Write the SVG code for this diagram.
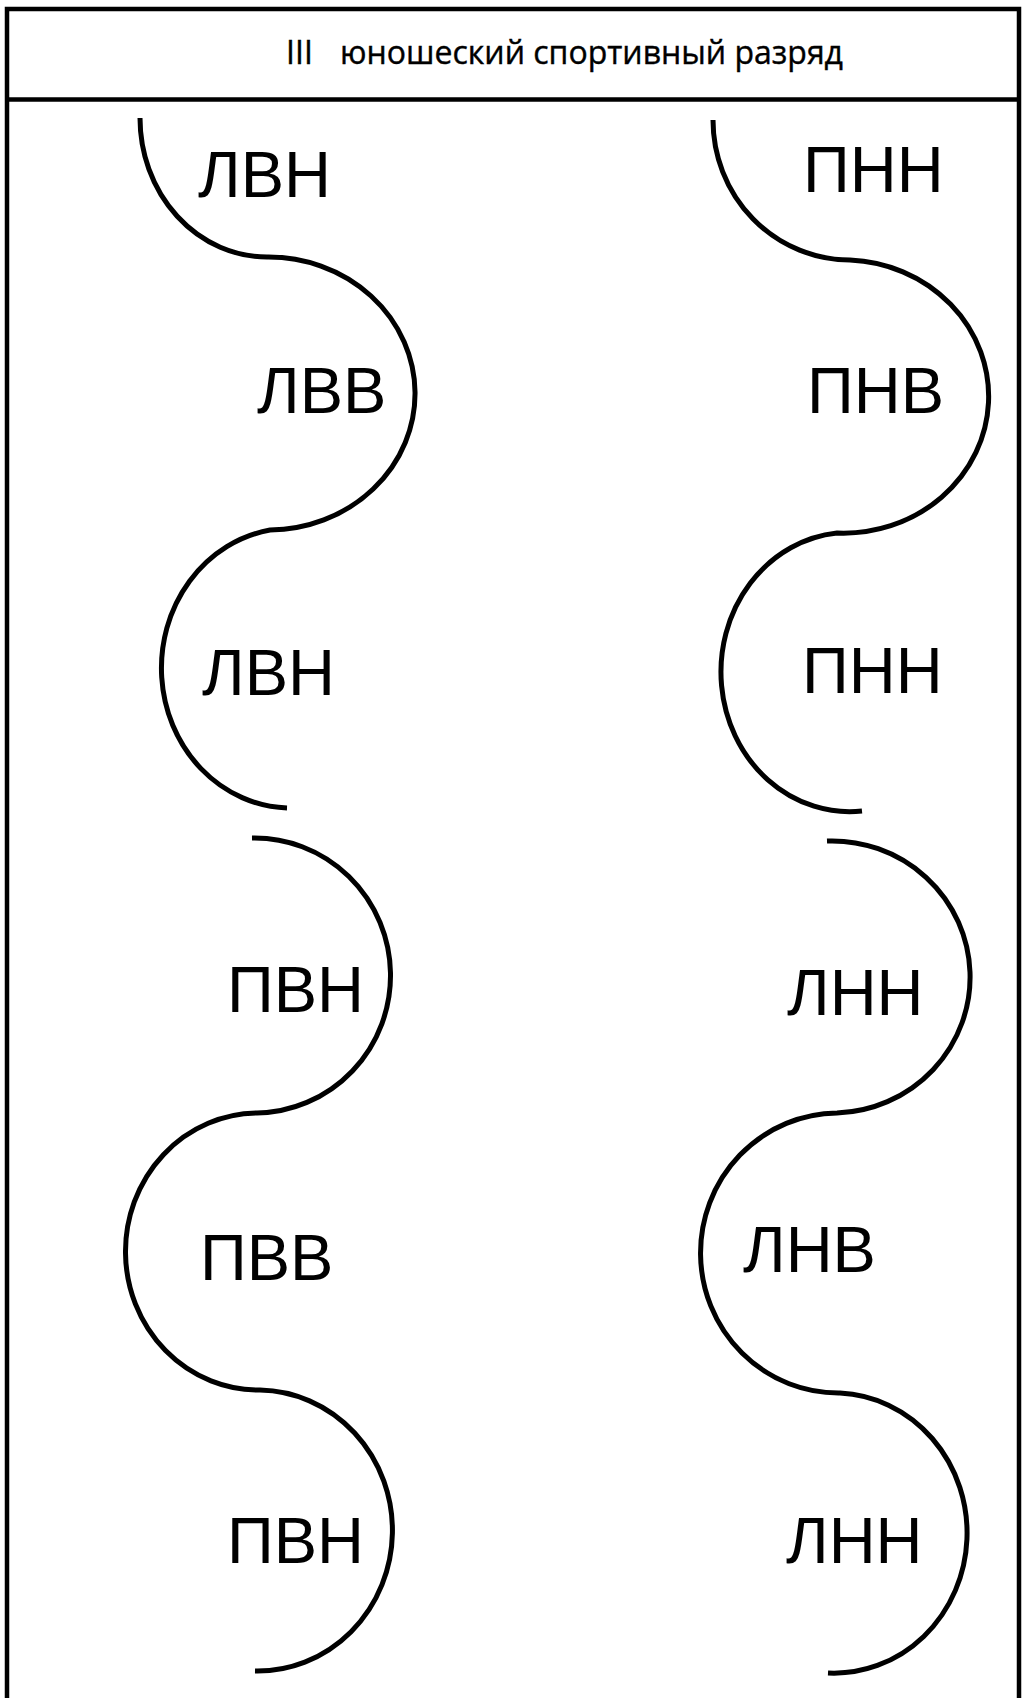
<svg xmlns="http://www.w3.org/2000/svg" width="1022" height="1698" viewBox="0 0 1022 1698">
<style>
.frame{fill:none;stroke:#000;stroke-width:4.5}
.wave{fill:none;stroke:#000;stroke-width:5;stroke-linecap:butt}
.lbl{font-family:"Liberation Sans",Arial,sans-serif;font-size:65px;fill:#000}
.title{font-family:"Open Sans","DejaVu Sans",sans-serif;font-size:32px;fill:#000;stroke:#000;stroke-width:0.4}
</style>
<rect width="1022" height="1698" fill="#fff"/>
<g id="frame">
<rect class="frame" x="7" y="9" width="1012" height="1720"/>
<line class="frame" x1="7" y1="99.5" x2="1019" y2="99.5"/>
</g>
<g id="title">
<text class="title" x="286" y="64">III</text>
<text class="title" x="340" y="64" textLength="503" lengthAdjust="spacing">юношеский спортивный разряд</text>
</g>
<g id="connectors">
<path class="wave" d="M140,118 A127,139 0 0 0 267,257 A146,136 0 0 1 270,530 A130,140 0 0 0 287,808"/>
<path class="wave" d="M252,838 A136,137.5 0 0 1 257,1113 A133,138.5 0 0 0 260,1390 A135,140.5 0 0 1 255,1671"/>
<path class="wave" d="M713,120 A137,140 0 0 0 850,260 A145,136.5 0 0 1 837,533 A128,139 0 0 0 862,811"/>
<path class="wave" d="M827,841 A138,136 0 0 1 837,1113 A138,140 0 0 0 840,1393 A133,140 0 0 1 828,1673"/>
</g>
<g id="n1"><text class="lbl" x="198" y="197">ЛВН</text></g>
<g id="n2"><text class="lbl" x="257" y="413">ЛВВ</text></g>
<g id="n3"><text class="lbl" x="202" y="695">ЛВН</text></g>
<g id="n4"><text class="lbl" x="227" y="1012">ПВН</text></g>
<g id="n5"><text class="lbl" x="200" y="1280">ПВВ</text></g>
<g id="n6"><text class="lbl" x="227" y="1563">ПВН</text></g>
<g id="n7"><text class="lbl" x="803" y="192">ПНН</text></g>
<g id="n8"><text class="lbl" x="807" y="413">ПНВ</text></g>
<g id="n9"><text class="lbl" x="802" y="693">ПНН</text></g>
<g id="n10"><text class="lbl" x="787" y="1015">ЛНН</text></g>
<g id="n11"><text class="lbl" x="743" y="1272">ЛНВ</text></g>
<g id="n12"><text class="lbl" x="786" y="1563">ЛНН</text></g>
</svg>
